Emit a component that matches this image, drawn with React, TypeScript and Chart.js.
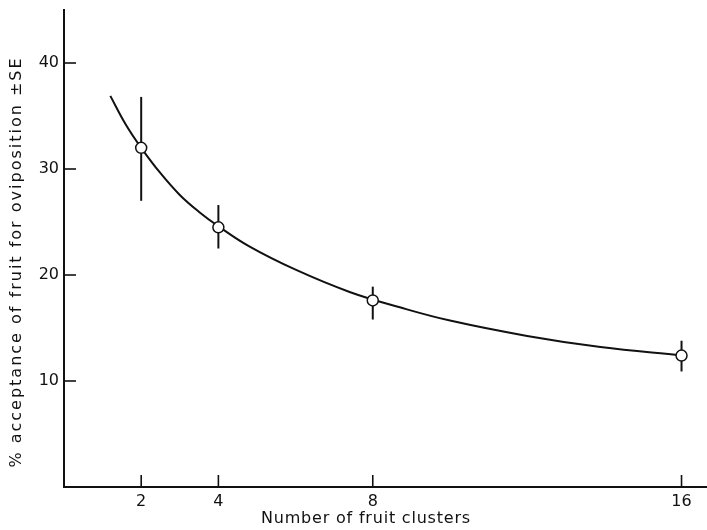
import React, { useEffect, useRef } from "react";
import { Chart, registerables } from "chart.js";

Chart.register(...registerables);

// Observed means and standard-error limits
const clusters = [2, 4, 8, 16];
const acceptance = [32.0, 24.5, 17.6, 12.4];
const seLow = [27.0, 22.5, 15.8, 10.9];
const seHigh = [36.8, 26.6, 18.9, 13.8];

// Fitted curve
const curveX = [1.2, 1.6, 2.0, 2.5, 3.0, 3.5, 4.0, 4.8, 6.0, 7.4, 8.7, 10.0, 12.0, 13.9, 16.0];
const curveY = [36.9, 34.2, 32.0, 29.6, 27.55, 25.95, 24.6, 22.7, 20.5, 18.4, 16.95, 15.7, 14.25, 13.2, 12.4];

const xTicks = [2, 4, 8, 16];
const yTicks = [10, 20, 30, 40];

const xTitle = "Number of fruit clusters";
const yTitle = "% acceptance of fruit for oviposition \u00B1SE";

const INK = "#111";
const FONT = "'DejaVu Sans', sans-serif";

const decor = {
  id: "decor",
  beforeDatasetsDraw(chart: any) {
    const { ctx } = chart;
    const x = chart.scales.x;
    const y = chart.scales.y;
    ctx.save();
    ctx.strokeStyle = INK;
    ctx.lineWidth = 2;
    clusters.forEach((c, i) => {
      const px = x.getPixelForValue(c);
      ctx.beginPath();
      ctx.moveTo(px, y.getPixelForValue(seLow[i]));
      ctx.lineTo(px, y.getPixelForValue(seHigh[i]));
      ctx.stroke();
    });
    ctx.lineWidth = 1.6;
    yTicks.forEach((v) => {
      const py = y.getPixelForValue(v);
      ctx.beginPath();
      ctx.moveTo(x.left, py);
      ctx.lineTo(x.left + 12, py);
      ctx.stroke();
    });
    xTicks.forEach((v) => {
      const px = x.getPixelForValue(v);
      ctx.beginPath();
      ctx.moveTo(px, y.bottom);
      ctx.lineTo(px, y.bottom - 12);
      ctx.stroke();
    });
    ctx.restore();
  },
  afterDraw(chart: any) {
    const { ctx } = chart;
    ctx.save();
    ctx.fillStyle = INK;
    ctx.font = "16px " + FONT;
    ctx.textAlign = "center";
    ctx.textBaseline = "middle";
    (ctx as any).letterSpacing = "0.8px";
    ctx.fillText(xTitle, 366, 519);
    ctx.translate(17, 262);
    ctx.rotate(-Math.PI / 2);
    (ctx as any).letterSpacing = "2px";
    ctx.fillText(yTitle, 0, 0);
    ctx.restore();
  },
};

const noPad = (s: any) => {
  s.paddingLeft = 0;
  s.paddingRight = 0;
  s.paddingTop = 0;
  s.paddingBottom = 0;
};

export default function App() {
  const ref = useRef<HTMLCanvasElement>(null);

  useEffect(() => {
    if (!ref.current) return;
    const chart = new Chart(ref.current, {
      type: "scatter",
      data: {
        datasets: [
          {
            label: "mean",
            data: clusters.map((c, i) => ({ x: c, y: acceptance[i] })),
            pointRadius: 5.5,
            pointBackgroundColor: "#fff",
            pointBorderColor: INK,
            pointBorderWidth: 1.5,
            showLine: false,
          },
          {
            type: "line",
            label: "fit",
            data: curveX.map((v, i) => ({ x: v, y: curveY[i] })),
            borderColor: INK,
            borderWidth: 2,
            pointRadius: 0,
            tension: 0.4,
            fill: false,
          } as any,
        ],
      },
      options: {
        responsive: false,
        animation: false,
        layout: { autoPadding: false, padding: { top: 10, left: 0, right: 0, bottom: 0 } },
        plugins: { legend: { display: false }, tooltip: { enabled: false } },
        scales: {
          x: {
            type: "linear",
            min: 0,
            max: 16.66,
            afterBuildTicks: (s: any) => {
              s.ticks = xTicks.map((v) => ({ value: v }));
            },
            afterFit: (s: any) => {
              s.height = 43;
              noPad(s);
            },
            grid: { display: false, drawTicks: false },
            border: { display: true, color: INK, width: 2 },
            ticks: {
              color: INK,
              font: { family: FONT, size: 16 },
              padding: 5,
              autoSkip: false,
              maxRotation: 0,
            },
          },
          y: {
            type: "linear",
            min: 0,
            max: 45,
            afterBuildTicks: (s: any) => {
              s.ticks = yTicks.map((v) => ({ value: v }));
            },
            afterFit: (s: any) => {
              s.width = 64;
              noPad(s);
            },
            grid: { display: false, drawTicks: false },
            border: { display: true, color: INK, width: 2 },
            ticks: {
              color: INK,
              font: { family: FONT, size: 16 },
              padding: 5,
              autoSkip: false,
            },
          },
        },
      },
      plugins: [decor],
    });
    return () => chart.destroy();
  }, []);

  return (
    <div style={{ position: "absolute", left: 0, top: 0, width: 707, height: 530, background: "#fff" }}>
      <canvas ref={ref} width={707} height={530} style={{ display: "block" }} />
    </div>
  );
}
